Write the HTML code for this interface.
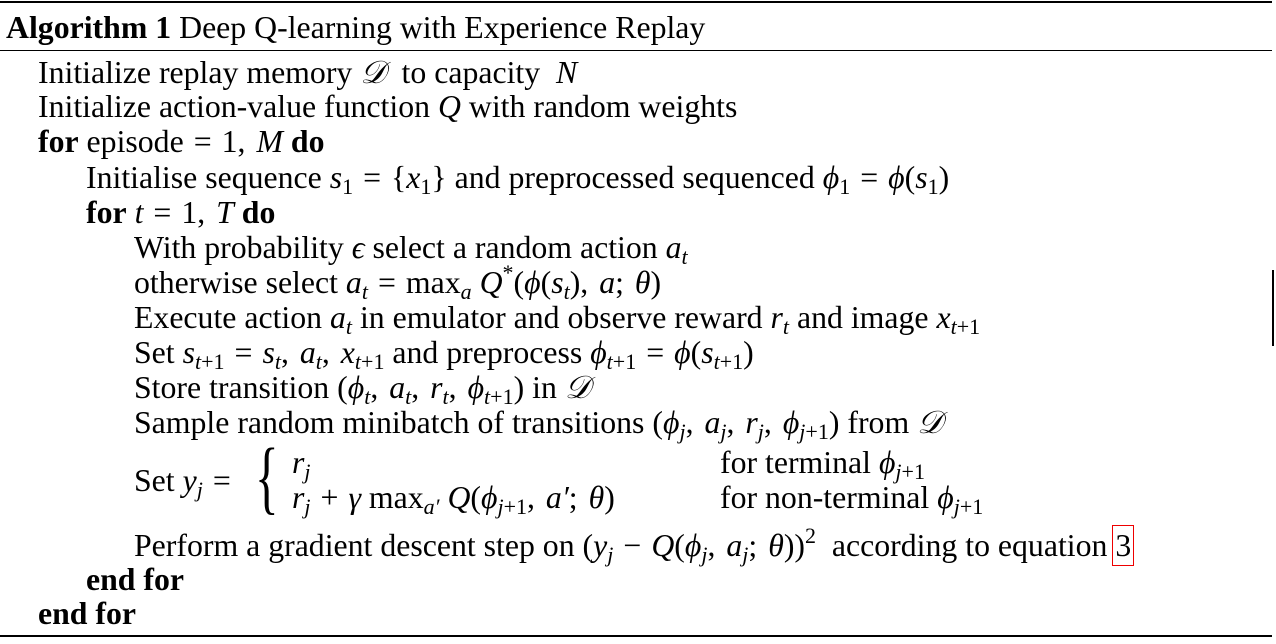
<!DOCTYPE html>
<html><head><meta charset="utf-8"><style>
body{margin:0;width:1276px;height:644px;background:#fff;position:relative;overflow:hidden;font-family:"Liberation Serif","DejaVu Serif",serif;font-size:31.8px;color:#000}
.l{position:absolute;white-space:nowrap;line-height:35px}
i{font-style:italic}
b{font-weight:bold}
sub{font-size:22px;vertical-align:-6px;line-height:0}
sup{font-size:22px;vertical-align:13px;line-height:0}
.o{margin:0 10px}
.c{margin-right:3px}
.r{position:absolute;left:0;width:1272px;background:#000}
</style></head><body>
<div class="r" style="top:1px;height:2px"></div>
<div class="r" style="top:50px;height:1px"></div>
<div class="r" style="top:635px;height:2px"></div>
<div style="position:absolute;left:1272px;top:270px;width:2px;height:76px;background:#000"></div>

<div class="l" style="left:6px;top:10px"><b>Algorithm 1</b> Deep Q-learning with Experience Replay</div>
<div class="l" style="left:38px;top:55px">Initialize replay memory <i>𝒟</i>&nbsp; to capacity &nbsp;<i>N</i></div>
<div class="l" style="left:38px;top:89px">Initialize action-value function <i>Q</i> with random weights</div>
<div class="l" style="left:38px;top:124px"><b>for</b> episode<span class="o">=</span>1,<span class="c"></span> <i>M</i> <b>do</b></div>
<div class="l" style="left:86px;top:160px">Initialise sequence <i>s</i><sub>1</sub><span class="o">=</span>{<i>x</i><sub>1</sub>} and preprocessed sequenced <i>ϕ</i><sub>1</sub><span class="o">=</span><i>ϕ</i>(<i>s</i><sub>1</sub>)</div>
<div class="l" style="left:86px;top:195px"><b>for</b> <i>t</i><span class="o">=</span>1,<span class="c"></span> <i>T</i> <b>do</b></div>
<div class="l" style="left:134px;top:230px">With probability <i>ϵ</i> select a random action <i>a<sub>t</sub></i></div>
<div class="l" style="left:134px;top:265px">otherwise select <i>a<sub>t</sub></i><span class="o">=</span>max<sub><i>a</i></sub> <i>Q</i><sup>*</sup>(<i>ϕ</i>(<i>s<sub>t</sub></i>),<span class="c"></span> <i>a</i>;<span class="c"></span> <i>θ</i>)</div>
<div class="l" style="left:134px;top:300px">Execute action <i>a<sub>t</sub></i> in emulator and observe reward <i>r<sub>t</sub></i> and image <i>x</i><sub><i>t</i>+1</sub></div>
<div class="l" style="left:134px;top:335px">Set <i>s</i><sub><i>t</i>+1</sub><span class="o">=</span><i>s<sub>t</sub></i>,<span class="c"></span> <i>a<sub>t</sub></i>,<span class="c"></span> <i>x</i><sub><i>t</i>+1</sub> and preprocess <i>ϕ</i><sub><i>t</i>+1</sub><span class="o">=</span><i>ϕ</i>(<i>s</i><sub><i>t</i>+1</sub>)</div>
<div class="l" style="left:134px;top:370px">Store transition (<i>ϕ<sub>t</sub></i>,<span class="c"></span> <i>a<sub>t</sub></i>,<span class="c"></span> <i>r<sub>t</sub></i>,<span class="c"></span> <i>ϕ</i><sub><i>t</i>+1</sub>) in <i>𝒟</i></div>
<div class="l" style="left:134px;top:405px">Sample random minibatch of transitions (<i>ϕ<sub>j</sub></i>,<span class="c"></span> <i>a<sub>j</sub></i>,<span class="c"></span> <i>r<sub>j</sub></i>,<span class="c"></span> <i>ϕ</i><sub><i>j</i>+1</sub>) from <i>𝒟</i></div>
<div class="l" style="left:134px;top:463px">Set <i>y<sub>j</sub></i><span class="o">=</span></div>
<div class="l" style="left:255px;top:432px;font-size:82px;line-height:90px;transform:scaleX(0.6);transform-origin:left">{</div>
<div class="l" style="left:292px;top:445px"><i>r<sub>j</sub></i></div>
<div class="l" style="left:292px;top:480px"><i>r<sub>j</sub></i><span class="o">+</span><i>γ</i> max<sub><i>a′</i></sub> <i>Q</i>(<i>ϕ</i><sub><i>j</i>+1</sub>,<span class="c"></span> <i>a′</i>;<span class="c"></span> <i>θ</i>)</div>
<div class="l" style="left:720px;top:445px">for terminal <i>ϕ</i><sub><i>j</i>+1</sub></div>
<div class="l" style="left:720px;top:480px">for non-terminal <i>ϕ</i><sub><i>j</i>+1</sub></div>
<div class="l" style="left:134px;top:528px">Perform a gradient descent step on (<i>y<sub>j</sub></i><span class="o">−</span><i>Q</i>(<i>ϕ<sub>j</sub></i>,<span class="c"></span> <i>a<sub>j</sub></i>;<span class="c"></span> <i>θ</i>))<sup>2</sup> &nbsp;according to equation <span style="outline:1.5px solid #e00;outline-offset:2px">3</span></div>
<div class="l" style="left:86px;top:562px"><b>end for</b></div>
<div class="l" style="left:38px;top:596px"><b>end for</b></div>
</body></html>
